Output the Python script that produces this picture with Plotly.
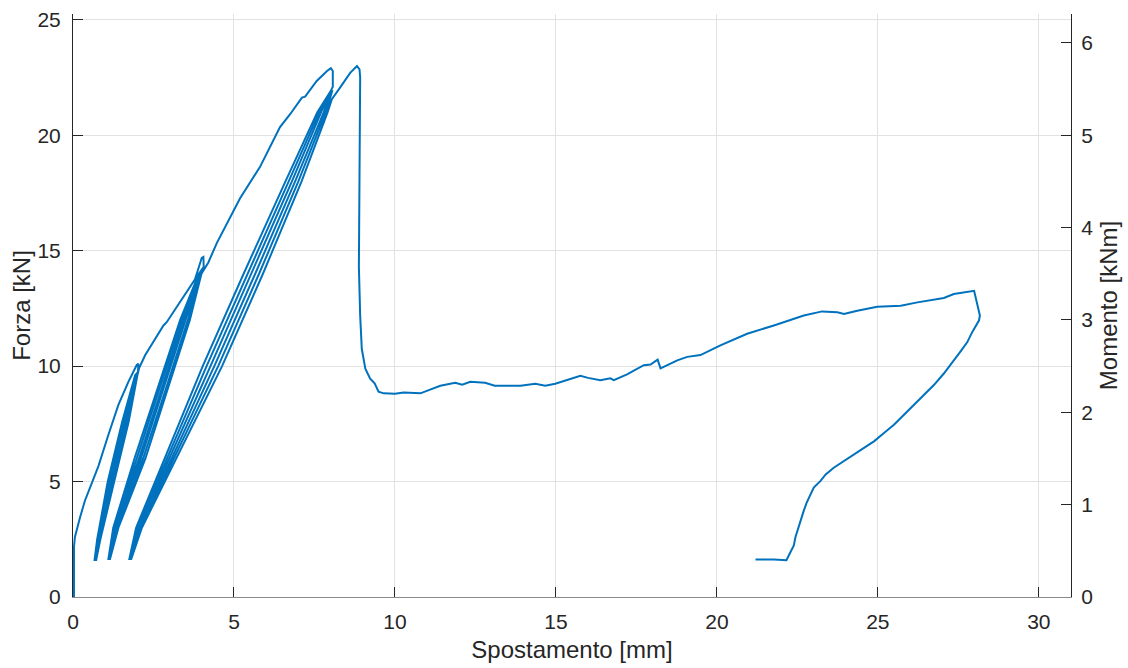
import plotly.graph_objects as go

# ---------------- data ----------------
# initial loading up to the first peak
env1_x = [0.03, 0.03, 0.06, 0.11, 0.22, 0.37, 0.58, 0.79, 1.10, 1.41, 1.72, 1.98, 2.03, 2.02]
env1_y = [0.00, 2.16, 2.60, 2.88, 3.45, 4.17, 4.88, 5.67, 7.03, 8.32, 9.32, 10.05, 10.10, 9.75]

# first group of cycles (~10 kN)
band1_levels = [9.6, 7.6, 5.0, 2.5, 1.6]
band1_lines = [
    [1.93, 1.53, 1.08, 0.75, 0.67],
    [1.95, 1.57, 1.12, 0.77, 0.68],
    [1.96, 1.61, 1.16, 0.79, 0.69],
    [1.97, 1.65, 1.20, 0.81, 0.70],
    [1.98, 1.69, 1.24, 0.83, 0.71],
    [2.00, 1.73, 1.28, 0.85, 0.72],
]

# loading to the second peak
env2_x = [2.05, 2.24, 2.55, 2.81, 2.91, 3.38, 3.79, 4.00, 4.05, 4.06]
env2_y = [9.90, 10.47, 11.18, 11.76, 11.90, 12.90, 13.76, 14.69, 14.73, 14.30]

# second group of cycles (~14.5 kN)
band2_levels = [14.0, 12.0, 9.0, 6.0, 3.0, 1.65]
band2_lines = [
    [3.91, 3.33, 2.61, 1.91, 1.25, 1.10],
    [3.93, 3.39, 2.68, 1.98, 1.28, 1.11],
    [3.94, 3.45, 2.75, 2.05, 1.31, 1.12],
    [3.96, 3.51, 2.81, 2.11, 1.35, 1.13],
    [3.97, 3.57, 2.88, 2.18, 1.38, 1.14],
    [3.99, 3.63, 2.95, 2.25, 1.41, 1.15],
]

# loading to the third peak
env3_x = [4.20, 4.47, 4.78, 5.09, 5.19, 5.81, 6.43, 6.75, 7.11, 7.21, 7.57, 7.89, 8.01, 8.07, 8.07]
env3_y = [14.48, 15.34, 16.19, 16.98, 17.27, 18.63, 20.35, 20.92, 21.63, 21.67, 22.35, 22.78, 22.90, 22.78, 22.10]

# third group of cycles (~22 kN)
band3_levels = [21.9, 21.0, 18.0, 14.0, 10.0, 6.0, 3.0, 1.65]
band3_lines = [
    [8.00, 7.59, 6.60, 5.30, 4.03, 2.85, 1.96, 1.75],
    [8.01, 7.65, 6.70, 5.42, 4.15, 2.92, 2.00, 1.76],
    [8.02, 7.71, 6.80, 5.54, 4.27, 2.99, 2.03, 1.77],
    [8.04, 7.79, 6.90, 5.66, 4.39, 3.07, 2.07, 1.79],
    [8.05, 7.85, 7.00, 5.78, 4.51, 3.14, 2.10, 1.80],
    [8.06, 7.91, 7.10, 5.90, 4.63, 3.21, 2.14, 1.81],
]

# final loading, failure drop, residual plateau and last unloading
env4_x = [8.04, 8.30, 8.61, 8.82, 8.90, 8.92, 8.90, 8.88, 8.92, 8.97, 9.08, 9.23, 9.37, 9.49, 9.65,
          10.00, 10.27, 10.79, 10.99, 11.41, 11.87, 12.09, 12.34, 12.80, 13.10, 13.90, 14.36, 14.67,
          14.98, 15.45, 15.76, 16.00, 16.38, 16.69, 16.80, 17.21, 17.73, 17.94, 18.16, 18.25, 18.77,
          19.08, 19.49, 20.11, 20.94, 21.77, 22.70, 23.27, 23.74, 23.95, 24.36, 24.98, 25.71, 26.23,
          27.05, 27.36, 27.99, 28.17, 28.14, 27.93, 27.78, 27.57, 27.36, 27.05, 26.74, 26.43, 26.12,
          25.81, 25.50, 25.19, 24.88, 24.57, 24.26, 23.95, 23.63, 23.38, 23.22, 23.01, 22.91, 22.79,
          22.70, 22.60, 22.55, 22.44, 22.39, 22.29, 22.16, 21.77, 21.20]
env4_y = [21.56, 22.07, 22.70, 23.00, 22.85, 22.50, 17.20, 14.30, 12.19, 10.75, 9.89, 9.46, 9.25, 8.89, 8.82,
          8.80, 8.86, 8.82, 8.93, 9.15, 9.28, 9.19, 9.32, 9.28, 9.15, 9.15, 9.24, 9.15,
          9.24, 9.45, 9.58, 9.49, 9.39, 9.47, 9.39, 9.64, 10.04, 10.07, 10.28, 9.90, 10.25,
          10.40, 10.48, 10.90, 11.40, 11.76, 12.19, 12.37, 12.33, 12.26, 12.40, 12.57, 12.61, 12.76,
          12.95, 13.12, 13.26, 12.19, 11.97, 11.47, 11.04, 10.64, 10.25, 9.68, 9.18, 8.75, 8.32,
          7.89, 7.46, 7.10, 6.74, 6.46, 6.17, 5.89, 5.60, 5.31, 5.03, 4.74, 4.45, 4.09,
          3.74, 3.31, 3.02, 2.59, 2.23, 1.95, 1.59, 1.62, 1.62]

x_ticks = [0, 5, 10, 15, 20, 25, 30]
f_ticks = [0, 5, 10, 15, 20, 25]
m_ticks = [0, 1, 2, 3, 4, 5, 6]

# ---------------- assemble the path ----------------
xs, ys = [], []


def add(px, py):
    xs.extend(px)
    ys.extend(py)


def add_band(lines, levels, last_stop=None):
    n = len(lines) // 2
    for k in range(n):
        unl = lines[k]
        rel = lines[k + n]
        add(unl, levels)
        if k == n - 1 and last_stop is not None:
            add(rel[::-1][:last_stop], levels[::-1][:last_stop])
        else:
            add(rel[::-1], levels[::-1])


add(env1_x, env1_y)
add_band(band1_lines, band1_levels)
add(env2_x, env2_y)
add_band(band2_lines, band2_levels)
add(env3_x, env3_y)
add_band(band3_lines, band3_levels, last_stop=len(band3_levels) - 1)
add(env4_x, env4_y)

BLUE = "#0072BD"
AX = "#262626"
GRID = "#e2e2e2"
FONT = "Liberation Sans, Arial, sans-serif"

fig = go.Figure()
fig.add_trace(go.Scatter(x=xs, y=ys, mode="lines", line=dict(color=BLUE, width=2),
                         showlegend=False, hoverinfo="skip"))
fig.add_trace(go.Scatter(x=[None], y=[None], yaxis="y2", mode="lines", showlegend=False,
                         hoverinfo="skip"))

common = dict(showline=True, linewidth=1, ticks="inside", ticklen=10,
              tickcolor=AX, tickwidth=1, zeroline=False,
              tickfont=dict(family=FONT, size=21, color=AX))

fig.update_layout(
    width=1128, height=668,
    margin=dict(l=73, r=57, t=8, b=71),
    paper_bgcolor="white", plot_bgcolor="white",
    font=dict(family=FONT, color=AX),
    xaxis=dict(range=[0, 31], tickvals=x_ticks, showgrid=True, gridcolor=GRID, gridwidth=1,
               linecolor="#8a8a8a", ticklabelstandoff=6,
               title=dict(text="Spostamento [mm]", font=dict(family=FONT, size=24, color=AX), standoff=8),
               **common),
    yaxis=dict(range=[0, 25.25], tickvals=f_ticks, showgrid=True, gridcolor=GRID, gridwidth=1,
               linecolor=AX, ticklabelstandoff=7,
               title=dict(text="Forza [kN]", font=dict(family=FONT, size=24, color=AX), standoff=0),
               **common),
    yaxis2=dict(range=[0, 6.3125], tickvals=m_ticks, overlaying="y", side="right", showgrid=False,
                linecolor=AX, ticklabelstandoff=5,
                title=dict(text="Momento [kNm]", font=dict(family=FONT, size=24, color=AX), standoff=7),
                **common),
)

fig.write_html("out.html")
